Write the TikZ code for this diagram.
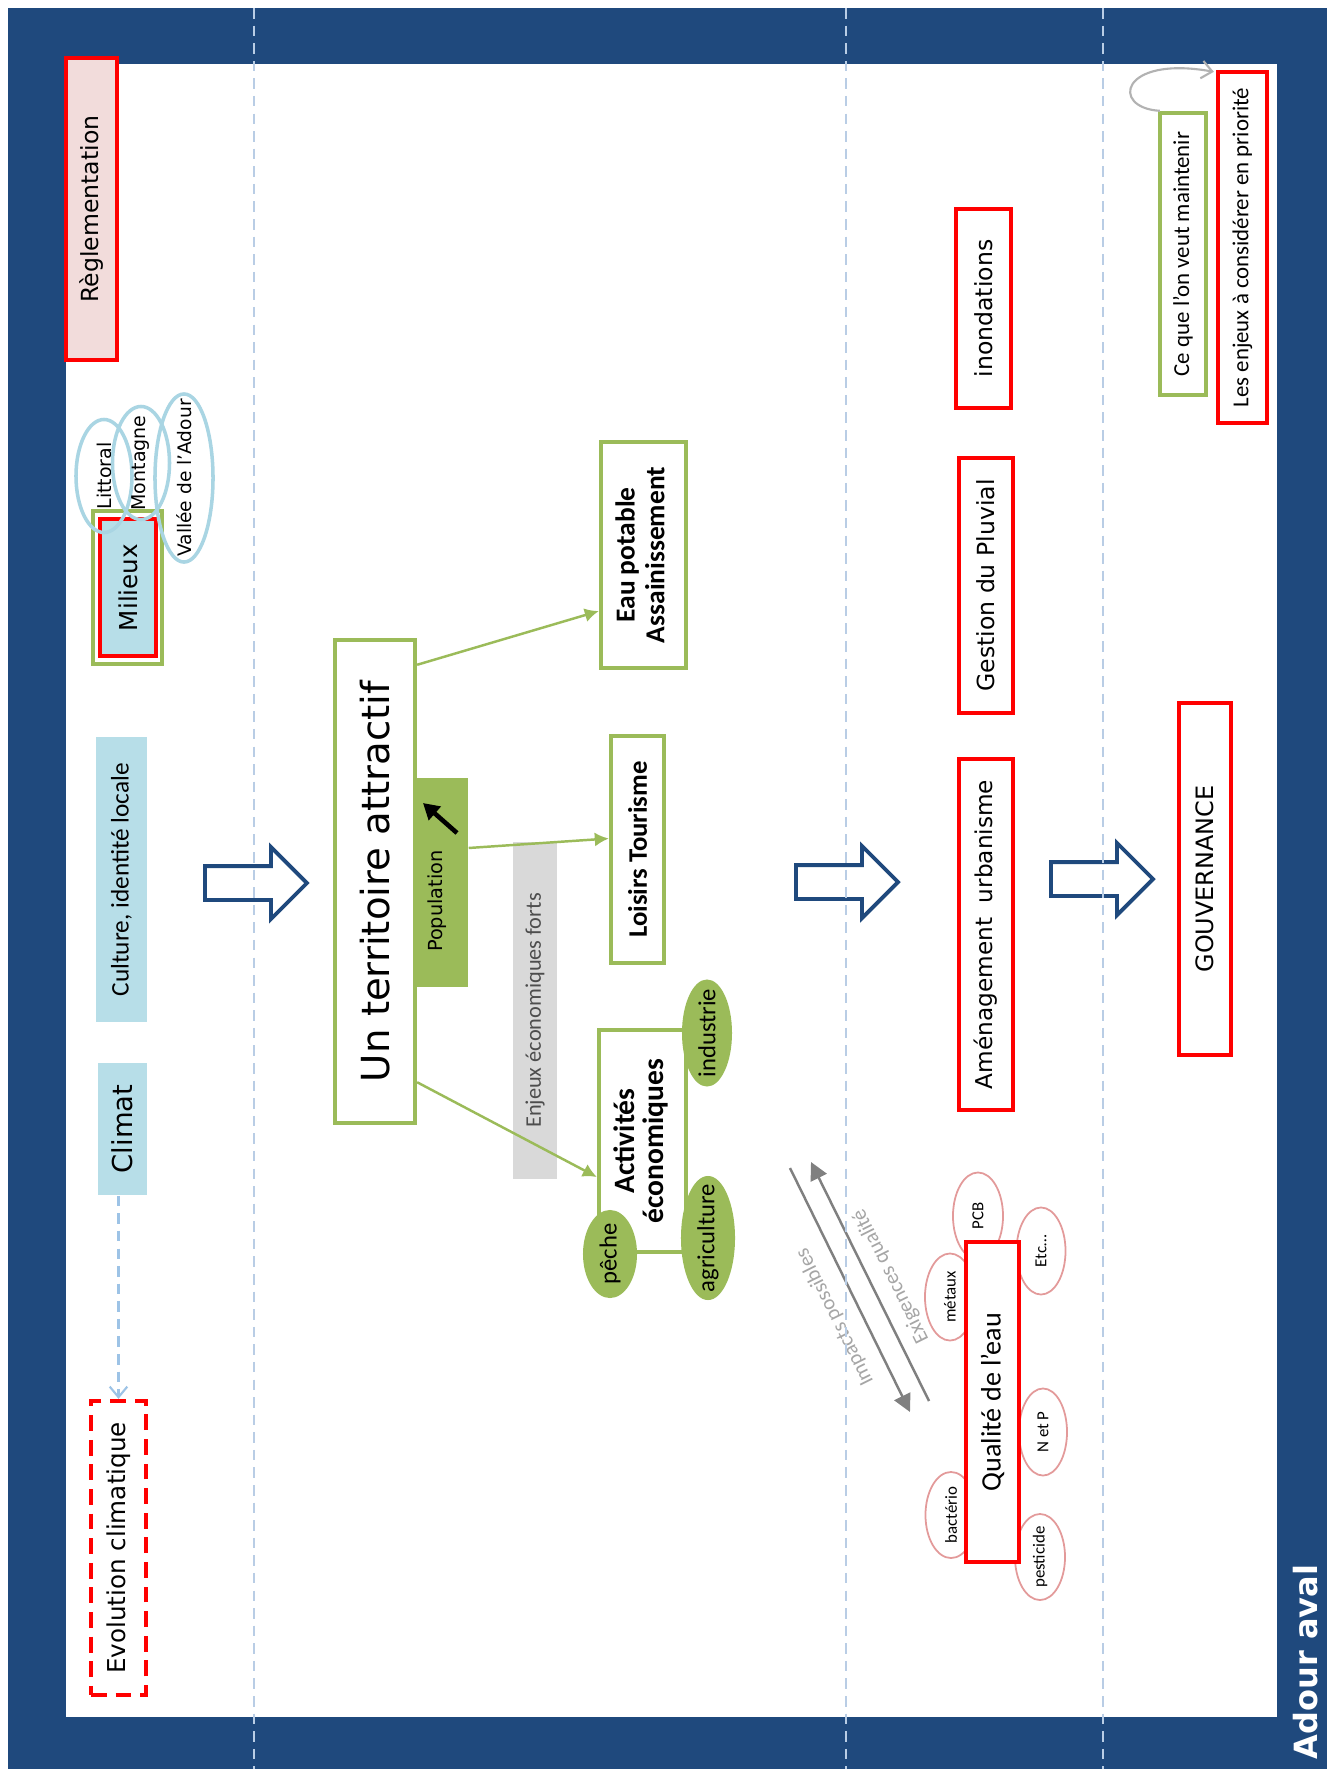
\documentclass[tikz,border=0pt]{standalone}
\usepackage{fontspec}
\setmainfont{DejaVu Sans}
\newfontfamily\calib{Carlito}
\usetikzlibrary{arrows.meta,shapes.geometric,shapes.arrows}
\definecolor{slnavy}{HTML}{1F497D}
\definecolor{slgreen}{HTML}{9BBB59}
\definecolor{sllight}{HTML}{B7DEE8}
\definecolor{sloval}{HTML}{A9D5E3}
\definecolor{slpink}{HTML}{F2DCDB}
\definecolor{slrose}{HTML}{E39A9A}
\definecolor{slgrey}{HTML}{D9D9D9}
\definecolor{slgreytxt}{HTML}{4D4D4D}
\definecolor{sllabel}{HTML}{A6A6A6}
\definecolor{sldash}{HTML}{B9CDE5}
\definecolor{slclim}{HTML}{9DC3E6}
\newcommand{\fsz}[1]{\fontsize{#1}{#1}\selectfont}
\newcommand{\turntext}[1]{\rotatebox{90}{#1}}
\tikzset{
    every node/.style={align=center, inner sep=0pt},
    redbox/.style={draw=red, line width=1.2pt, fill=white},
    greenbox/.style={draw=slgreen, line width=1.2pt, fill=white},
    skybox/.style={fill=sllight},
    region/.style={ellipse, draw=sloval, line width=1pt},
    sector/.style={ellipse, fill=slgreen},
    polluant/.style={ellipse, draw=slrose, line width=0.5pt},
    bigarrow/.style={single arrow, draw=slnavy, line width=1.1pt, fill=white, anchor=tail,
        minimum height=1.02cm, single arrow head extend=0.19cm, inner sep=0.15cm},
    link/.style={slgreen, line width=0.7pt, -{Latex[length=4pt,width=4pt]}},
    exchange/.style={gray, line width=0.7pt, -{Triangle[length=5pt,width=5pt]}},
}

\begin{document}
\begin{tikzpicture}[x=0.01cm, y=-0.01cm]
\useasboundingbox (0,0) rectangle (1327,1769);
% slide frame
\fill[slnavy] (8,8) rectangle (1327,1769);
\fill[white] (66,64) rectangle (1277,1717);

% left column
\node[redbox, fill=slpink, minimum width=0.51cm, minimum height=3.02cm, font=\fsz{6.7}] (regl) at (91.5,209) {\turntext{Règlementation}};

\node[greenbox, minimum width=0.69cm, minimum height=1.53cm] (milg) at (127.5,587.5) {};
\node[redbox, fill=sllight, minimum width=0.56cm, minimum height=1.37cm, font=\fsz{7}] (mil) at (128,587.5) {\turntext{Milieux}};
\node[region, minimum width=0.56cm, minimum height=1.13cm, label={[font=\fsz{5.4}]center:\turntext{Littoral}}] (litt) at (104,476) {};
\node[region, minimum width=0.57cm, minimum height=1.13cm, label={[font=\fsz{5.4}]center:\turntext{Montagne}}] (mont) at (141,463) {};
\node[region, minimum width=0.58cm, minimum height=1.68cm, label={[font=\fsz{5.3}]center:\turntext{Vallée de l’Adour}}] (vall) at (184,478) {};

\node[skybox, minimum width=0.51cm, minimum height=2.85cm, font=\calib\fsz{7.2}] (cult) at (121.5,879.5) {\turntext{Culture, identité locale}};
\node[skybox, minimum width=0.49cm, minimum height=1.32cm, font=\fsz{7.8}] (clim) at (122.5,1129) {\turntext{Climat}};
\node[redbox, dash pattern=on 4.5pt off 2.5pt, minimum width=0.55cm, minimum height=2.94cm, font=\fsz{7}] (evol) at (118.5,1548) {\turntext{Evolution climatique}};
\draw[slclim, line width=0.6pt, dash pattern=on 3pt off 2pt, -{Straight Barb[length=3pt,width=5pt]}] (clim.south -| evol.north) -- (evol.north);

% big arrows
\node[bigarrow] (fl1) at (203,883) {};
\node[bigarrow] (fl2) at (794,882) {};
\node[bigarrow] (fl3) at (1049,879) {};

% centre
\node[greenbox, minimum width=0.80cm, minimum height=4.83cm, font=\fsz{11}] (terr) at (375,881.5) {\turntext{Un territoire attractif}};
\node[fill=slgreen, minimum width=0.51cm, minimum height=2.09cm] (pop) at (442.5,882.5) {};
\node[font=\fsz{5.5}] (poptxt) at (437,901) {\turntext{Population}};
\coordinate (grow0) at (457,833);
\coordinate (grow1) at (423,803);
\draw[line width=1.3pt, -{Triangle[length=4.5pt,width=5pt]}] (grow0) -- (grow1);

\node[fill=slgrey, minimum width=0.44cm, minimum height=3.37cm, text=slgreytxt, font=\calib\fsz{6.35}] (enj) at (535,1010.5) {\turntext{Enjeux économiques forts}};

\node[greenbox, minimum width=0.53cm, minimum height=2.27cm, font=\calib\bfseries\fsz{7.6}] (lois) at (637.5,849.5) {\turntext{Loisirs Tourisme}};
\node[greenbox, minimum width=0.85cm, minimum height=2.26cm, font=\calib\bfseries\fontsize{7.8}{8.5}\selectfont] (eau) at (643.5,555) {\turntext{\begin{tabular}{@{}c@{}}Eau potable\\Assainissement\end{tabular}}};
\node[greenbox, minimum width=0.87cm, minimum height=2.22cm, font=\calib\bfseries\fontsize{8.4}{8}\selectfont] (act) at (642.5,1141) {\turntext{\begin{tabular}{@{}c@{}}Activités\\économiques\end{tabular}}};
\node[sector, minimum width=0.50cm, minimum height=1.07cm, label={[font=\calib\fsz{7}]center:\turntext{industrie}}] (ind) at (707,1033) {};
\node[sector, minimum width=0.54cm, minimum height=0.88cm, label={[font=\calib\fsz{7}]center:\turntext{pêche}}] (pech) at (610,1254) {};
\node[sector, minimum width=0.54cm, minimum height=1.24cm, label={[font=\calib\fsz{7}]center:\turntext{agriculture}}] (agri) at (708,1238) {};

\draw[link] ([yshift=-0.27cm]terr.north east) -- ([yshift=-0.56cm]eau.west);
\draw[link] ([yshift=0.345cm]pop.east) -- ([yshift=0.11cm]lois.west);
\draw[link] ([yshift=0.43cm]terr.south east) -- ([yshift=-0.36cm]act.west);

% right column
\node[redbox, minimum width=0.55cm, minimum height=1.99cm, font=\fsz{6.7}] (inon) at (983.5,308.5) {\turntext{inondations}};
\node[redbox, minimum width=0.54cm, minimum height=2.55cm, font=\fsz{6.7}] (pluv) at (986,585.5) {\turntext{Gestion du Pluvial}};
\node[redbox, minimum width=0.54cm, minimum height=3.51cm, font=\fsz{6.6}] (amen) at (986,934.5) {\turntext{Aménagement~~urbanisme}};
\node[redbox, minimum width=0.52cm, minimum height=3.52cm, font=\fsz{6.8}] (gouv) at (1205,879) {\turntext{GOUVERNANCE}};

% water quality
\node[polluant, minimum width=0.50cm, minimum height=0.87cm, label={[font=\calib\fsz{4.8}]center:\turntext{PCB}}] (pcb) at (978,1216) {};
\node[polluant, minimum width=0.50cm, minimum height=0.87cm, label={[font=\calib\fsz{4.8}]center:\turntext{métaux}}] (met) at (950,1297) {};
\node[polluant, minimum width=0.49cm, minimum height=0.87cm, label={[font=\calib\fsz{4.8}]center:\turntext{Etc…}}] (etc) at (1041,1251) {};
\node[polluant, minimum width=0.48cm, minimum height=0.87cm, label={[font=\calib\fsz{4.8}]center:\turntext{N et P}}] (nep) at (1043,1432) {};
\node[polluant, minimum width=0.51cm, minimum height=0.86cm, label={[font=\calib\fsz{4.8}]center:\turntext{bactério}}] (bac) at (951,1515) {};
\node[polluant, minimum width=0.50cm, minimum height=0.86cm, label={[font=\calib\fsz{4.8}]center:\turntext{pesticide}}] (pest) at (1040,1557) {};
\node[redbox, minimum width=0.53cm, minimum height=3.20cm, font=\calib\fsz{8}] (qual) at (992.5,1402) {\turntext{Qualité de l’eau}};

\coordinate (imp0) at (790,1168);
\coordinate (imp1) at (910,1412);
\coordinate (exi0) at (929,1401);
\coordinate (exi1) at (811,1162);
\draw[exchange] (imp0) -- (imp1);
\draw[exchange] (exi0) -- (exi1);
\node[rotate=116.5, text=sllabel, font=\calib\fsz{6}] (impt) at (835,1317) {Impacts possibles};
\node[rotate=116.5, text=sllabel, font=\calib\fsz{6}] (exit) at (891,1276) {Exigences qualité};

% legend
\node[greenbox, minimum width=0.46cm, minimum height=2.82cm, font=\calib\fsz{6.5}] (keep) at (1183,254) {\turntext{Ce que l’on veut maintenir}};
\node[redbox, minimum width=0.49cm, minimum height=3.51cm, font=\calib\fsz{6.5}] (prio) at (1242.5,247.5) {\turntext{Les enjeux à considérer en priorité}};
\draw[gray!60, line width=0.6pt, -{Straight Barb[length=3pt,width=5pt]}] ([xshift=0.02cm]keep.north west) .. controls (1110,108) and (1120,55) .. ([xshift=-0.02cm,yshift=-0.02cm]prio.north west);

\node[rotate=90, text=white, font=\bfseries\fsz{9.1}] (titre) at (1306,1662) {Adour aval};

% column separators
\foreach \x in {254,846,1103}
    \draw[sldash, line width=0.6pt, dash pattern=on 3pt off 2pt] (\x,8) -- (\x,1769);
\end{tikzpicture}
\end{document}
